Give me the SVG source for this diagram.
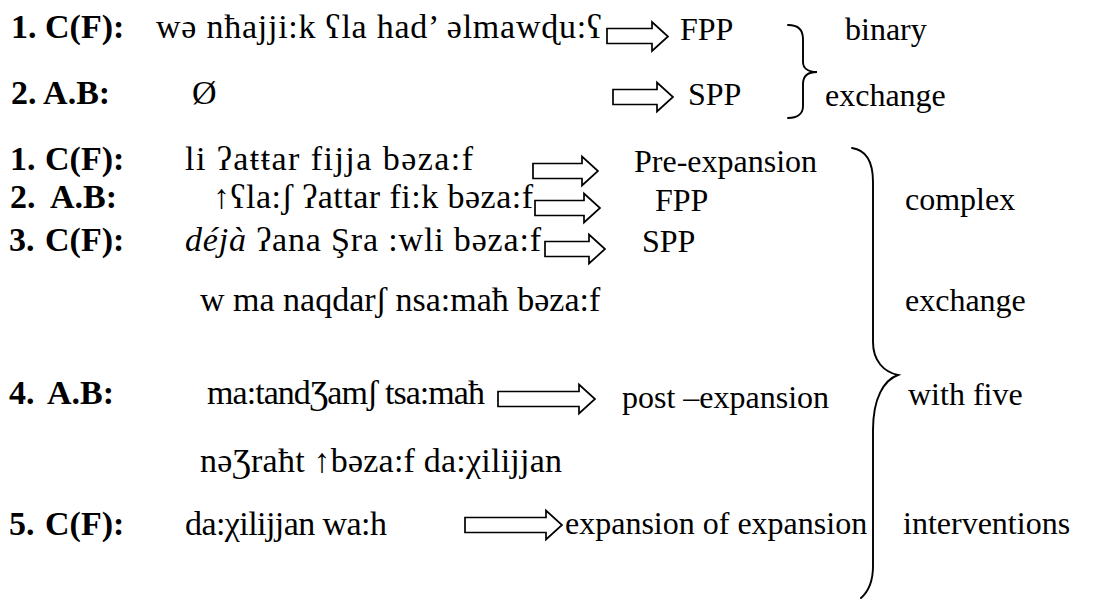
<svg xmlns="http://www.w3.org/2000/svg" width="1106" height="599" viewBox="0 0 1106 599">
  <style>
    text { font-family: "Liberation Serif", "Times New Roman", serif; font-size: 32px; fill: #000; }
    .lbl { font-weight: bold; font-size: 34px; }
    .tr { font-size: 34px; }
    .it { font-style: italic; }
    .arrow { fill: #fff; stroke: #000; stroke-width: 1.7; stroke-linejoin: miter; }
    .brace { fill: none; stroke: #000; stroke-width: 1.9; stroke-linecap: round; }
  </style>
  <rect width="1106" height="599" fill="#fff"/>

  <!-- Example 1: binary exchange -->
  <g id="ex1-turn1">
    <text class="lbl" x="11" y="38">1. C(F):</text>
    <text class="tr" x="156" y="38" textLength="446" lengthAdjust="spacing">wə nħajji:k ʕla had’ əlmawɖu:ʕ</text>
  </g>
  <g id="ex1-fpp"><text x="680" y="40">FPP</text></g>
  <g id="ex1-turn2">
    <text class="lbl" x="11" y="104">2. A.B:</text>
    <text class="tr" x="192" y="104">Ø</text>
  </g>
  <g id="ex1-spp"><text x="688" y="105">SPP</text></g>
  <g id="ex1-type">
    <text x="845" y="40">binary</text>
    <text x="825" y="106">exchange</text>
  </g>

  <!-- Example 2: complex exchange with five interventions -->
  <g id="ex2-turn1">
    <text class="lbl" x="10" y="170">1.</text>
    <text class="lbl" x="45" y="170">C(F):</text>
    <text class="tr" x="185" y="170" textLength="288" lengthAdjust="spacing">li ʔaŧŧar fijja bəza:f</text>
  </g>
  <g id="ex2-pre"><text x="634" y="172">Pre-expansion</text></g>
  <g id="ex2-turn2">
    <text class="lbl" x="10" y="208">2.</text>
    <text class="lbl" x="50" y="208">A.B:</text>
    <text class="tr" x="213" y="208" textLength="320" lengthAdjust="spacing">↑ʕla:ʃ ʔattar fi:k bəza:f</text>
  </g>
  <g id="ex2-fpp"><text x="655" y="211">FPP</text></g>
  <g id="ex2-turn3">
    <text class="lbl" x="9" y="251">3.</text>
    <text class="lbl" x="45" y="251">C(F):</text>
    <text class="tr" x="185" y="251" textLength="356" lengthAdjust="spacing"><tspan class="it">déjà</tspan> ʔana Şra :wli bəza:f</text>
    <text class="tr" x="200" y="311">w ma naqdarʃ nsa:maħ bəza:f</text>
  </g>
  <g id="ex2-spp"><text x="642" y="252">SPP</text></g>
  <g id="ex2-turn4">
    <text class="lbl" x="9" y="404">4.</text>
    <text class="lbl" x="47" y="404">A.B:</text>
    <text class="tr" x="207" y="404" textLength="278" lengthAdjust="spacing">ma:tandƷamʃ tsa:maħ</text>
    <text class="tr" x="200" y="472" textLength="362" lengthAdjust="spacing">nəƷraħt ↑bəza:f da:χilijjan</text>
  </g>
  <g id="ex2-post"><text x="622" y="408">post –expansion</text></g>
  <g id="ex2-turn5">
    <text class="lbl" x="9" y="535">5.</text>
    <text class="lbl" x="45" y="535">C(F):</text>
    <text class="tr" x="185" y="535" textLength="202" lengthAdjust="spacing">da:χilijjan wa:h</text>
  </g>
  <g id="ex2-expexp"><text x="565" y="534">expansion of expansion</text></g>
  <g id="ex2-type">
    <text x="905" y="210">complex</text>
    <text x="905" y="311">exchange</text>
    <text x="908" y="405">with five</text>
    <text x="903" y="534">interventions</text>
  </g>

  <!-- Block arrows and grouping braces -->
  <g id="connectors">
    <path class="arrow" d="M607 28.5 H652 V22 L668 36.5 L652 51 V43.5 H607 Z"/>
    <path class="arrow" d="M613 89.5 H657 V82.5 L673 97 L657 111.5 V104.5 H613 Z"/>
    <path class="arrow" d="M533 163.5 H582 V156.5 L598 171 L582 185.5 V178.5 H533 Z"/>
    <path class="arrow" d="M535 200.5 H584 V193.5 L600 208 L584 222.5 V215.5 H535 Z"/>
    <path class="arrow" d="M545 241.5 H589 V234.5 L605 249 L589 263.5 V256.5 H545 Z"/>
    <path class="arrow" d="M498 391.5 H579 V384.5 L595 399 L579 413.5 V406.5 H498 Z"/>
    <path class="arrow" d="M465 517.5 H546 V510.5 L562 525 L546 539.5 V532.5 H465 Z"/>

    <path class="brace" d="M788 25 C797 25 803 29 803 39 L803 62 C803 68 808 72 817 72 C808 72 803 76 803 84 L803 106 C803 114 797 118 788 118"/>
    <path class="brace" d="M852 148 C866 150 873 162 873 182 L873 342 C873 361 884 372 898 375 C884 380 873 398 873 430 L873 566 C873 582 869 591 861 598"/>
  </g>
</svg>
